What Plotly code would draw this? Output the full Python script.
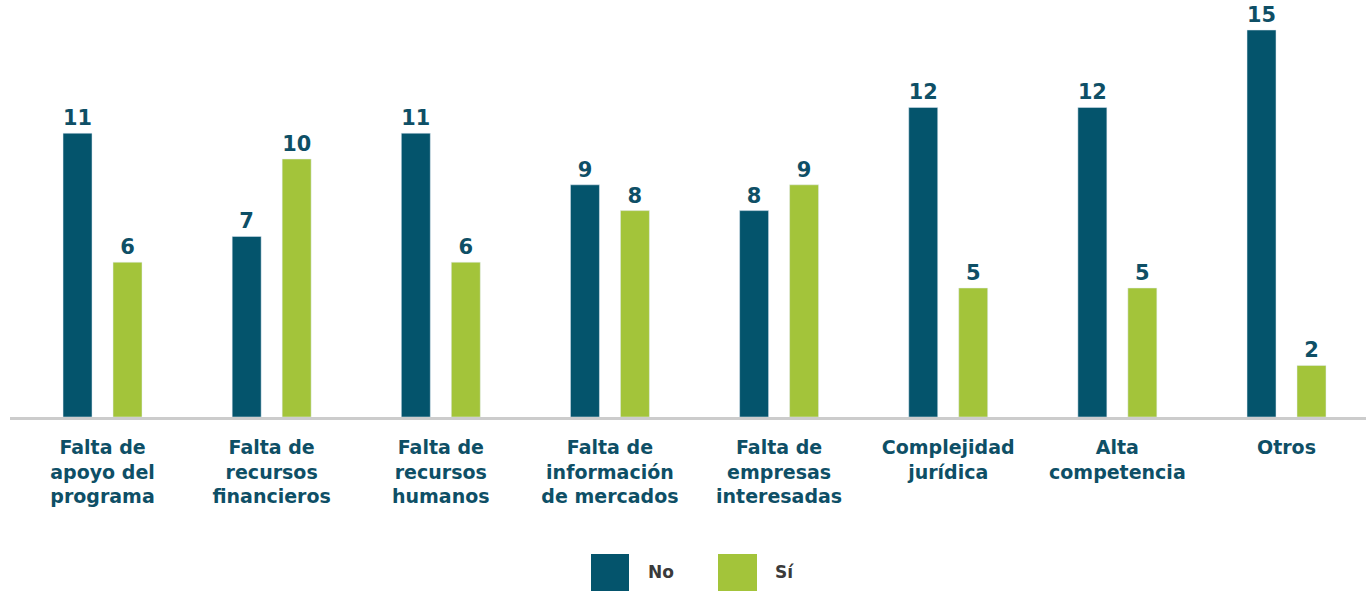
import plotly.graph_objects as go

categories = [
    "Falta de<br>apoyo del<br>programa",
    "Falta de<br>recursos<br>financieros",
    "Falta de<br>recursos<br>humanos",
    "Falta de<br>información<br>de mercados",
    "Falta de<br>empresas<br>interesadas",
    "Complejidad<br>jurídica",
    "Alta<br>competencia",
    "Otros",
]
no_values = [11, 7, 11, 9, 8, 12, 12, 15]
si_values = [6, 10, 6, 8, 9, 5, 5, 2]
series_names = ["No", "Sí"]

NO_COLOR = "#04546c"
SI_COLOR = "#a3c43a"
LABEL_COLOR = "#0e4f66"
FONT = "DejaVu Sans"

W, H = 1366, 592
ML, MR, MT, MB = 10, 0, 10, 175
PW, PH = W - ML - MR, H - MT - MB

fig = go.Figure()
fig.add_trace(go.Bar(
    x=categories, y=no_values, name=series_names[0], marker_color=NO_COLOR,
    text=no_values, textposition="outside", cliponaxis=False,
    textfont=dict(family=FONT, size=21, color=LABEL_COLOR, weight="bold"),
))
fig.add_trace(go.Bar(
    x=categories, y=si_values, name=series_names[1], marker_color=SI_COLOR,
    text=si_values, textposition="outside", cliponaxis=False,
    textfont=dict(family=FONT, size=21, color=LABEL_COLOR, weight="bold"),
))

def px_x(p):
    return (p - ML) / PW

def px_y(p):
    return (MT + PH - p) / PH

shapes = []
annotations = []
legend_items = [(591, 629, NO_COLOR, 646, series_names[0]), (718, 757, SI_COLOR, 773, series_names[1])]
for x0, x1, col, tx, name in legend_items:
    shapes.append(dict(type="rect", xref="paper", yref="paper",
                       x0=px_x(x0), x1=px_x(x1), y0=px_y(591), y1=px_y(554),
                       fillcolor=col, line=dict(width=0)))
    annotations.append(dict(xref="paper", yref="paper", x=px_x(tx), y=px_y(572),
                            xanchor="left", yanchor="middle", showarrow=False,
                            text=name, font=dict(family=FONT, size=17, color="#3a3a3a", weight="bold")))

fig.update_layout(
    width=W, height=H,
    margin=dict(l=ML, r=MR, t=MT, b=MB),
    paper_bgcolor="white", plot_bgcolor="white",
    barmode="group", bargap=0.409, bargroupgap=0.42,
    showlegend=False,
    shapes=shapes, annotations=annotations,
    xaxis=dict(range=[-0.547, 7.47], showline=True, linecolor="#cccccc", linewidth=3,
               showgrid=False, ticks="", ticklabelstandoff=11,
               tickfont=dict(family=FONT, size=19, color=LABEL_COLOR, weight="bold")),
    yaxis=dict(range=[0, 15.775], showgrid=False, showticklabels=False, zeroline=False, showline=False),
)

fig.write_html("out.html", config={"displayModeBar": False},
               post_script="document.body.style.margin='0';document.body.style.overflow='hidden';")
